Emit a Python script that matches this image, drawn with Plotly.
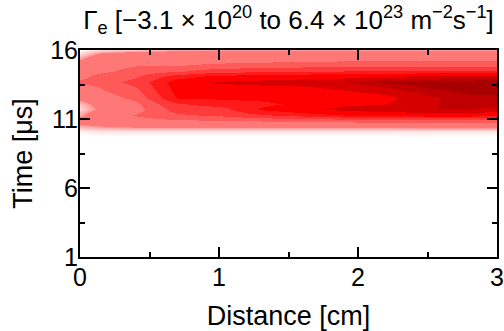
import numpy as np
import plotly.graph_objects as go

# Electron flux map, values in units of 1e23 m^-2 s^-1
distance_cm = [0.0, 0.15, 0.4, 0.7, 1.0, 1.3, 1.6, 1.9, 2.2, 2.5, 2.8, 3.0]
time_us = [1.0, 9.6, 10.1, 10.5, 10.9, 11.3, 11.7, 12.1, 12.5, 12.9,
           13.3, 13.7, 14.1, 14.5, 14.9, 15.3, 15.7, 16.0]

# one list per distance, ordered along time_us
flux_by_distance = [
    [0, -0.003, 0.1, 0.4, 0.7, 0.4, 0.2, 0.3, 0.6, 0.9, 1.0, 1.5, 1.1, 1.0, 0.9, 0.5, 0.2, 0.05],
    [0, 0, 0.15, 0.5, 0.9, 0.9, 0.6, 0.7, 1.0, 1.2, 1.4, 1.7, 1.6, 1.2, 1.1, 0.9, 0.6, 0.2],
    [0, 0, 0.15, 0.6, 1.1, 1.4, 1.1, 1.2, 1.5, 1.7, 2.0, 2.2, 1.9, 1.6, 1.3, 1.1, 0.8, 0.3],
    [0, 0, 0.15, 0.6, 1.3, 1.9, 2.3, 2.6, 3.4, 3.6, 3.7, 3.8, 3.0, 1.9, 1.3, 1.1, 0.9, 0.4],
    [0, 0, 0.15, 0.6, 1.4, 2.1, 2.4, 3.0, 3.5, 3.9, 4.0, 4.4, 3.6, 2.4, 1.5, 1.1, 0.9, 0.45],
    [0, 0, 0.15, 0.6, 1.5, 2.6, 3.5, 3.2, 3.6, 3.9, 4.1, 4.6, 3.7, 2.5, 1.6, 1.15, 0.95, 0.45],
    [0, 0, 0.15, 0.6, 1.6, 3.0, 4.0, 3.6, 3.9, 4.0, 4.2, 4.7, 3.9, 2.6, 1.7, 1.2, 1.0, 0.45],
    [0, 0, 0.15, 0.6, 1.7, 3.4, 4.6, 4.1, 4.0, 4.1, 4.5, 4.9, 4.0, 2.7, 1.8, 1.25, 1.0, 0.45],
    [0, 0, 0.15, 0.6, 1.8, 3.6, 4.8, 4.3, 4.1, 4.4, 5.0, 5.8, 4.2, 2.7, 1.8, 1.25, 1.0, 0.45],
    [0, 0, 0.15, 0.7, 1.9, 3.8, 5.0, 4.9, 4.8, 5.2, 5.8, 6.0, 4.4, 2.8, 1.8, 1.3, 1.0, 0.45],
    [0, 0, 0.15, 0.7, 1.9, 3.8, 5.0, 5.3, 5.5, 5.8, 6.1, 6.2, 4.6, 2.8, 1.8, 1.3, 1.0, 0.45],
    [0, 0, 0.15, 0.7, 1.9, 3.6, 4.8, 5.2, 5.4, 5.8, 6.2, 6.4, 4.6, 2.8, 1.8, 1.3, 1.0, 0.45],
]

z_min, z_max = -0.0031, 6.4

# filled levels: (upper bound, colour); lowest band fades in from white
fade_end, fade_colour = 0.5, "#ff9090"
levels = [
    (1.35, "#ff7878"),
    (2.0, "#ff5a5a"),
    (2.7, "#ff3a3a"),
    (3.4, "#ff1a1a"),
    (4.3, "#ff0000"),
    (5.0, "#d60000"),
    (5.7, "#c00000"),
    (6.4, "#a80000"),
]


def norm(v):
    return (v - z_min) / (z_max - z_min)


colorscale = [[0.0, "#ffffff"], [norm(0.03), "#ffffff"], [norm(fade_end), fade_colour]]
lower = fade_end
for upper, col in levels:
    colorscale.append([norm(lower), col])
    colorscale.append([min(norm(upper), 1.0), col])
    lower = upper
colorscale[-1][0] = 1.0

z = np.array(flux_by_distance).T

fig = go.Figure(
    go.Heatmap(
        x=distance_cm,
        y=time_us,
        z=z,
        zmin=z_min,
        zmax=z_max,
        zsmooth="best",
        colorscale=colorscale,
        showscale=False,
        hoverinfo="skip",
    )
)

font = dict(family="Liberation Sans, Arial, sans-serif", color="black")
axis_common = dict(
    showline=True,
    linecolor="black",
    linewidth=2,
    mirror="ticks",
    ticks="inside",
    ticklen=10,
    tickwidth=2,
    tickcolor="black",
    showgrid=False,
    zeroline=False,
    automargin=False,
    tickfont=dict(size=25, **font),
)

fig.update_xaxes(
    range=[0, 3],
    tickvals=[0, 1, 2, 3],
    ticklabelstandoff=-3,
    minor=dict(ticks="inside", ticklen=5, tickwidth=2, tickcolor="black", tickvals=[0.5, 1.5, 2.5]),
    title=dict(text="Distance [cm]", font=dict(size=27, **font), standoff=16),
    **axis_common,
)
fig.update_yaxes(
    range=[1, 16],
    tickvals=[1, 6, 11, 16],
    ticklabelstandoff=-5,
    minor=dict(ticks="inside", ticklen=5, tickwidth=2, tickcolor="black", tickvals=[3.5, 8.5, 13.5]),
    title=dict(text="Time [μs]", font=dict(size=27, **font), standoff=10),
    **axis_common,
)

fig.update_layout(
    width=504,
    height=331,
    margin=dict(l=80, r=7, t=50, b=74),
    paper_bgcolor="white",
    plot_bgcolor="white",
    title=dict(
        text="Γ<sub>e</sub> [−3.1 × 10<sup>20</sup> to 6.4 × 10<sup>23</sup> m<sup>−2</sup>s<sup>−1</sup>]",
        x=0.5,
        xref="paper",
        xanchor="center",
        y=0.94,
        yref="container",
        yanchor="middle",
        font=dict(size=26, **font),
    ),
)

fig.write_html("out.html")
